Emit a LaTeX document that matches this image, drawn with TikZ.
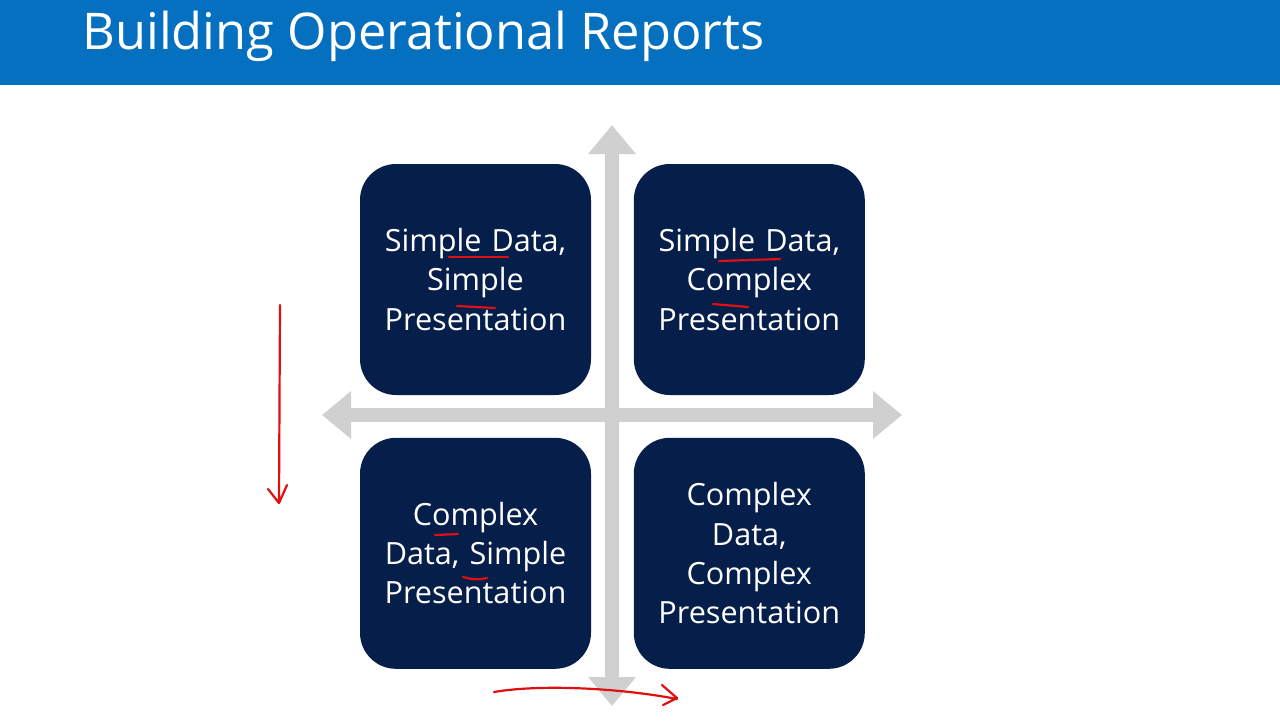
\documentclass[tikz,border=0pt]{standalone}
\usepackage{fontspec}
\setmainfont{Open Sans}
\usetikzlibrary{positioning,arrows.meta}
\definecolor{titleblue}{HTML}{0670C0}
\definecolor{navy}{HTML}{061E4A}
\definecolor{axisgray}{HTML}{D0D0D0}
\definecolor{inkred}{HTML}{E01010}

\begin{document}
\begin{tikzpicture}[x=0.5pt,y=-0.5pt,
      quad/.style={fill=navy,text=white,rounded corners=18pt,minimum width=115.5pt,minimum height=115.5pt,
        text width=110pt,align=center,inner sep=0pt,font=\fontsize{15.3}{19.6}\selectfont},
      axis/.style={{Triangle[width=23pt,length=14.5pt]}-{Triangle[width=23pt,length=14.5pt]},line width=7pt,axisgray},
      ink/.style={inkred,line width=1.1pt,line cap=round,line join=round}]
    \path[use as bounding box,fill=white] (0,0) rectangle (1280,720);
    \fill[titleblue] (0,0) rectangle (1280,85);
    \node[anchor=base west,text=white,inner sep=0pt,font=\fontsize{25.3}{30}\selectfont] (title) at (82,49) {Building Operational Reports};
    % axes
    \coordinate (n) at (612,125); \coordinate (s) at (612,706);
    \coordinate (w) at (322,415); \coordinate (e) at (902,415);
    \draw[axis] (s)--(n); \draw[axis] (w)--(e);
    % quadrants
    \node[quad] (sdsp) at (475.5,279.5) {Simple Data,\\Simple\\Presentation};
    \node[quad,right=21pt of sdsp] (sdcp) {Simple Data,\\Complex\\Presentation};
    \node[quad,below=21pt of sdsp] (cdsp) {Complex\\Data, Simple\\Presentation};
    \node[quad,below=21pt of sdcp] (cdcp) {Complex\\Data,\\Complex\\Presentation};
    % red ink
    \draw[ink] (280,305)--(279,502) (268,489)--(279,503)--(287,485);
    \draw[ink] (494,692) .. controls (540,684) and (620,688) .. (677,699) (662,685)--(677,698)--(663,705);
    \draw[ink] (449,257)--(508,257); \draw[ink] (457,306)--(495,308);
    \draw[ink] (719,261)--(780,259); \draw[ink] (713,304)--(748,307);
    \draw[ink] (435,535)--(458,534); \draw[ink] (463,577) .. controls (475,580) .. (487,578);
  \end{tikzpicture}
\end{document}
